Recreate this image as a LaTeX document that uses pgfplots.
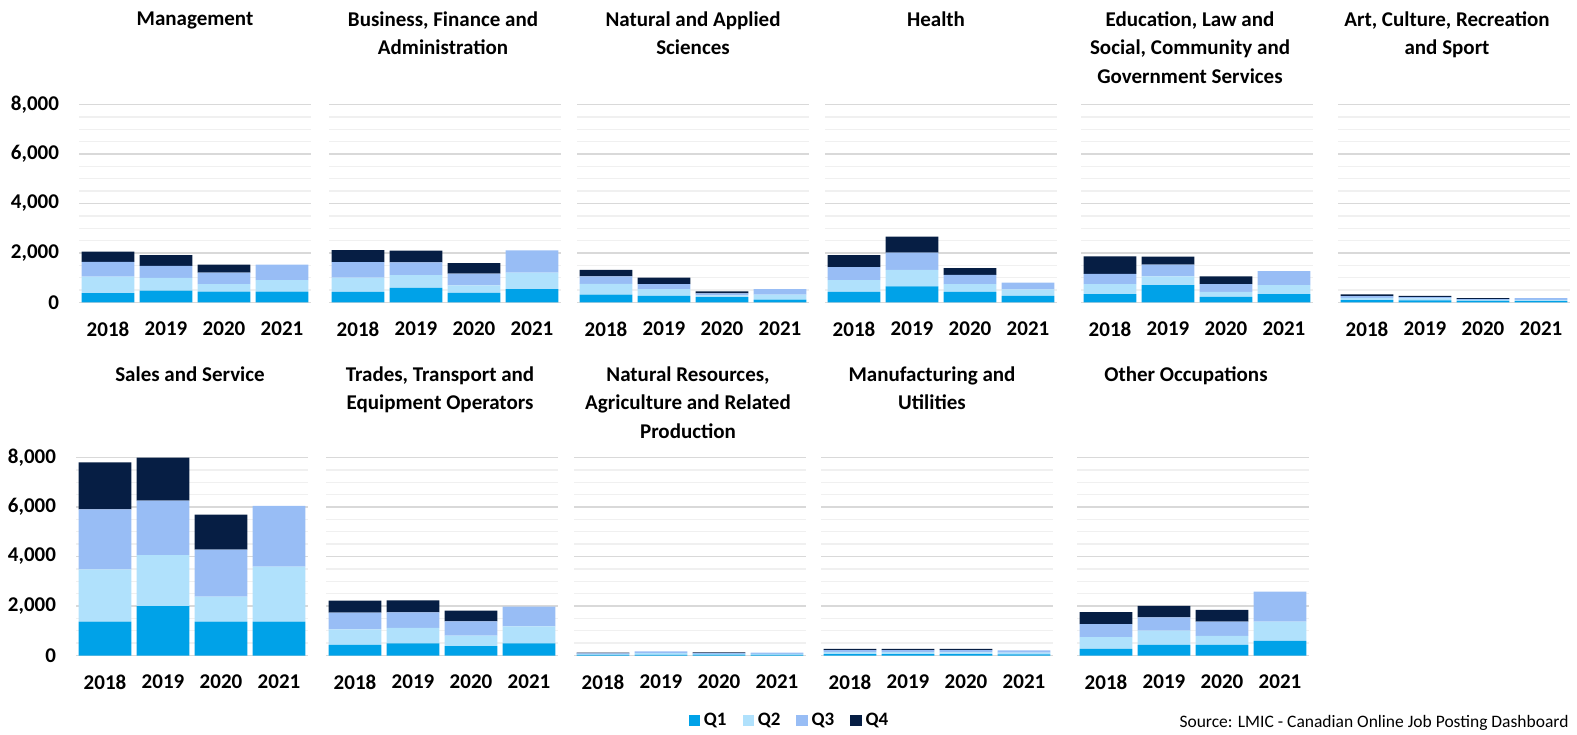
\documentclass[border=0pt]{standalone}
\usepackage{pgfplots}
\pgfplotsset{compat=1.18}
\usepackage{pgfplotstable}
\usepackage{fontspec}
\setmainfont{Carlito}
\definecolor{qone}{RGB}{0,162,232}
\definecolor{qtwo}{RGB}{176,225,252}
\definecolor{qthree}{RGB}{152,189,245}
\definecolor{qfour}{RGB}{6,30,68}
\definecolor{gmaj}{RGB}{217,217,217}
\definecolor{gmin}{RGB}{240,240,240}

% columns: x q1 q2 q3 q4
\pgfplotstableread{
x q1 q2 q3 q4
0 380 670 590 420
1 480 510 490 430
2 440 300 470 320
3 440 460 630 0
}\tMgmt
\pgfplotstableread{
x q1 q2 q3 q4
0 430 580 620 490
1 590 520 510 480
2 390 300 480 420
3 540 670 900 0
}\tBus
\pgfplotstableread{
x q1 q2 q3 q4
0 320 430 310 260
1 270 270 200 270
2 215 70 80 80
3 120 200 220 0
}\tNat
\pgfplotstableread{
x q1 q2 q3 q4
0 430 470 530 480
1 650 670 690 650
2 430 310 380 270
3 270 260 270 0
}\tHealth
\pgfplotstableread{
x q1 q2 q3 q4
0 340 400 420 700
1 700 360 470 320
2 230 200 310 320
3 340 360 570 0
}\tEdu
\pgfplotstableread{
x q1 q2 q3 q4
0 100 90 70 70
1 90 80 50 50
2 70 40 30 40
3 60 50 70 0
}\tArt
\pgfplotstableread{
x q1 q2 q3 q4
0 1370 2110 2420 1900
1 2000 2060 2200 1740
2 1370 1010 1900 1410
3 1370 2220 2460 0
}\tSales
\pgfplotstableread{
x q1 q2 q3 q4
0 430 630 670 490
1 490 630 620 490
2 380 420 580 430
3 490 690 790 0
}\tTrades
\pgfplotstableread{
x q1 q2 q3 q4
0 30 30 30 30
1 30 70 70 0
2 40 30 30 30
3 30 40 50 0
}\tRes
\pgfplotstableread{
x q1 q2 q3 q4
0 60 80 80 50
1 60 80 80 50
2 60 70 90 50
3 50 70 90 0
}\tManu
\pgfplotstableread{
x q1 q2 q3 q4
0 270 470 530 480
1 430 580 530 470
2 430 360 580 470
3 590 780 1210 0
}\tOther

\pgfplotsset{
  panel/.style={
    scale only axis, width=116pt, height=99pt, anchor=south west,
    xmin=-0.5, xmax=3.5, ymin=0, ymax=8000,
    ybar stacked, bar width=0.91,
    axis line style={draw=none}, tick style={draw=none},
    xtick={0,1,2,3}, xticklabels={2018,2019,2020,2021},
    xticklabel style={font=\fontsize{10.5}{12}\selectfont\bfseries, yshift=-6pt},
    ytick={0,2000,4000,6000,8000},
    minor ytick={500,1000,1500,2500,3000,3500,4500,5000,5500,6500,7000,7500},
    ymajorgrids, yminorgrids,
    major grid style={draw=gmaj, line width=0.9pt},
    minor grid style={draw=gmin, line width=0.7pt},
    yticklabels={},
    clip=false,
  },
  ylab/.style={
    yticklabels={0,{2,000},{4,000},{6,000},{8,000}},
    yticklabel style={font=\fontsize{10.5}{12}\selectfont\bfseries, xshift=-6.5pt},
  },
}
\newcommand\bars[1]{%
  \addplot[fill=qone, draw=none] table[x=x, y=q1] {#1};
  \addplot[fill=qtwo, draw=none] table[x=x, y=q2] {#1};
  \addplot[fill=qthree, draw=none] table[x=x, y=q3] {#1};
  \addplot[fill=qfour, draw=none] table[x=x, y=q4] {#1};
}
\newcommand\ttl[3]{\node[anchor=north, align=center, inner sep=0pt,
  font=\fontsize{10.5}{14.3}\selectfont\bfseries] at (#1pt,#2pt) {#3};}

\begin{document}
\begin{tikzpicture}
\useasboundingbox (0,0) rectangle (788.5pt,367pt);
% top row (baseline Y = 215.75pt)
\begin{axis}[panel, ylab, at={(39.5pt,215.75pt)}] \bars{\tMgmt} \end{axis}
\begin{axis}[panel, at={(164.5pt,215.75pt)}] \bars{\tBus} \end{axis}
\begin{axis}[panel, at={(288.5pt,215.75pt)}] \bars{\tNat} \end{axis}
\begin{axis}[panel, at={(412.5pt,215.75pt)}] \bars{\tHealth} \end{axis}
\begin{axis}[panel, at={(540.5pt,215.75pt)}] \bars{\tEdu} \end{axis}
\begin{axis}[panel, at={(669pt,215.75pt)}] \bars{\tArt} \end{axis}
% bottom row (baseline Y = 39.25pt)
\begin{axis}[panel, ylab, at={(38pt,39.25pt)}] \bars{\tSales} \end{axis}
\begin{axis}[panel, at={(163pt,39.25pt)}] \bars{\tTrades} \end{axis}
\begin{axis}[panel, at={(287pt,39.25pt)}] \bars{\tRes} \end{axis}
\begin{axis}[panel, at={(410.5pt,39.25pt)}] \bars{\tManu} \end{axis}
\begin{axis}[panel, at={(538.5pt,39.25pt)},
  legend style={at={(axis description cs:-1.235,-0.33)}, anchor=center,
    draw=none, fill=none, legend columns=4,
    font=\fontsize{9.5}{10}\selectfont\bfseries,
    /tikz/every even column/.append style={column sep=6pt}},
  legend image code/.code={\fill[#1] (0pt,-2.8pt) rectangle (5.6pt,2.8pt);}]
  \bars{\tOther}
  \legend{Q1,Q2,Q3,Q4}
\end{axis}
% titles
\ttl{97.5}{361.5}{Management}
\ttl{221.5}{361.5}{Business, Finance and\\Administration}
\ttl{346.5}{361.5}{Natural and Applied\\Sciences}
\ttl{468}{361.5}{Health}
\ttl{595}{361.5}{Education, Law and\\Social, Community and\\Government Services}
\ttl{723.5}{361.5}{Art, Culture, Recreation\\and Sport}
\ttl{95}{184}{Sales and Service}
\ttl{220}{184}{Trades, Transport and\\Equipment Operators}
\ttl{344}{184}{Natural Resources,\\Agriculture and Related\\Production}
\ttl{466}{184}{Manufacturing and\\Utilities}
\ttl{593}{184}{Other Occupations}
\node[anchor=east, inner sep=0pt, font=\fontsize{8.75}{10}\selectfont] at (784.5pt,5.5pt)
  {Source: LMIC - Canadian Online Job Posting Dashboard};
\end{tikzpicture}
\end{document}
